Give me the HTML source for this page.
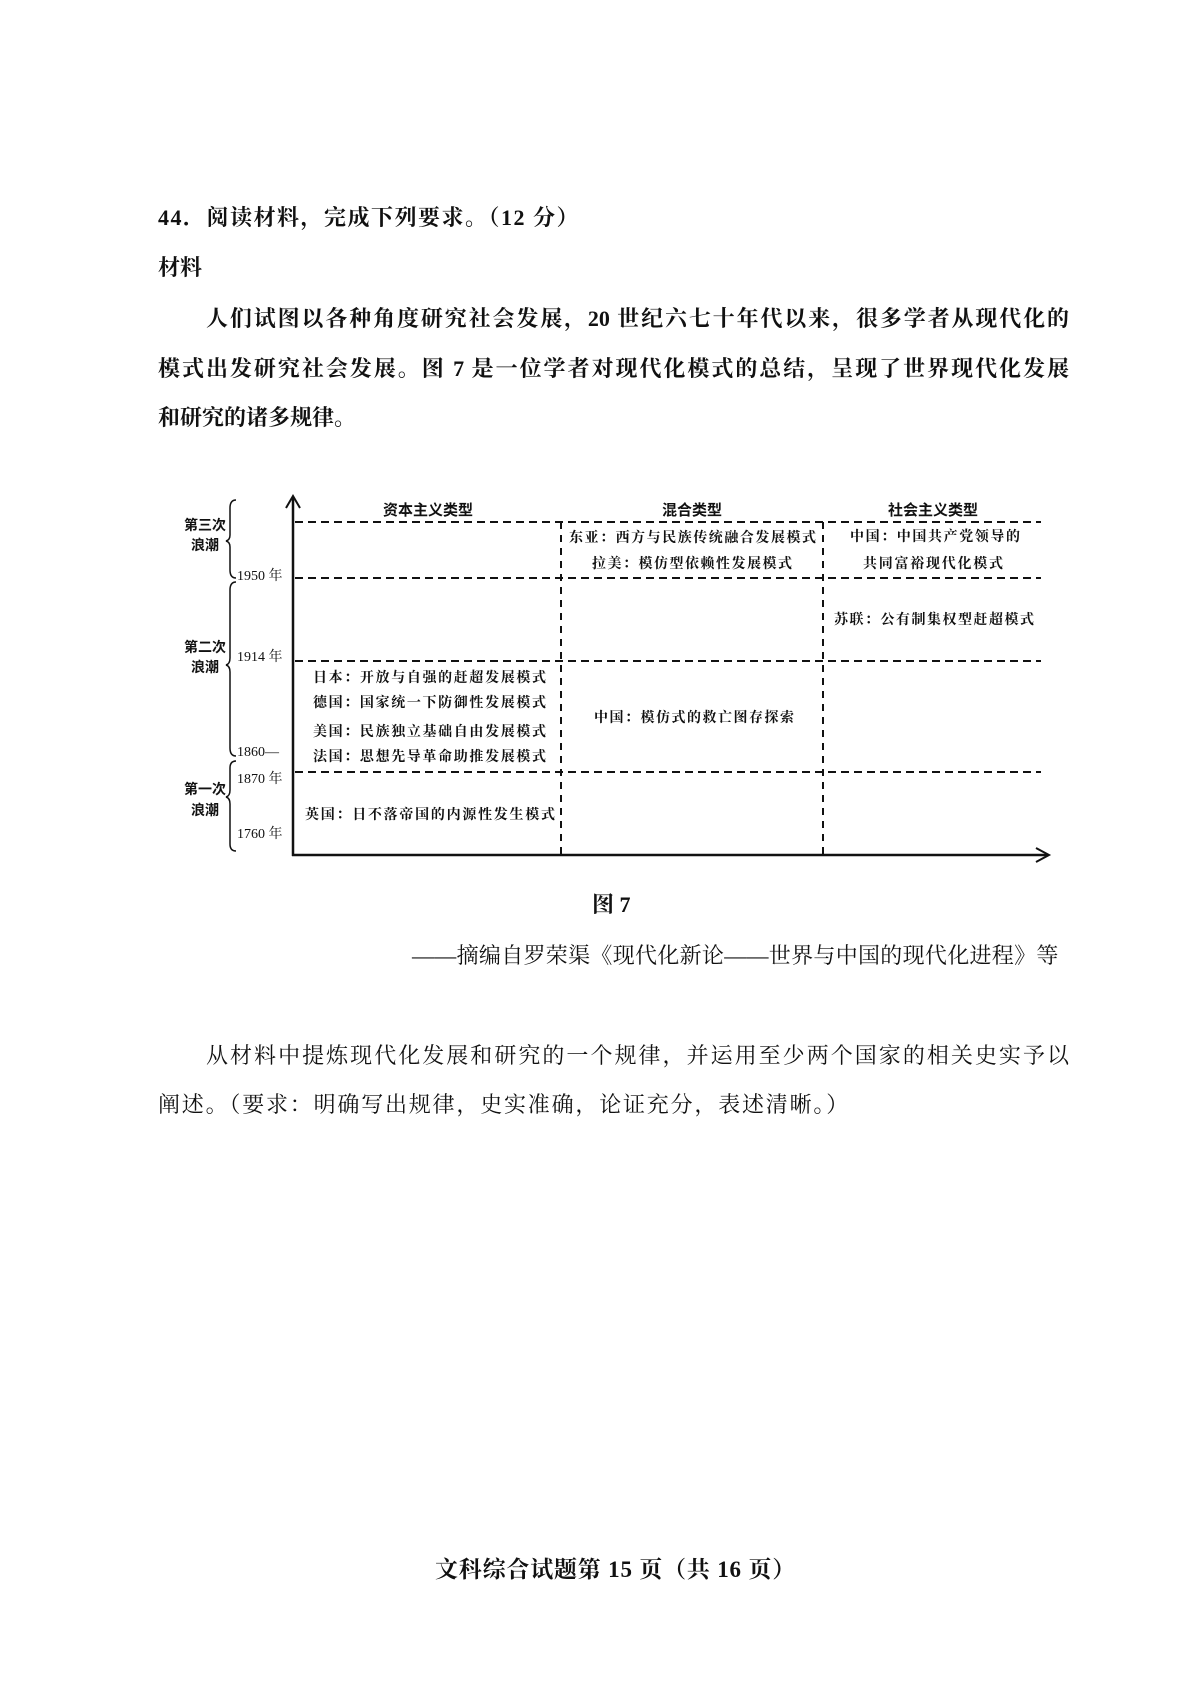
<!DOCTYPE html>
<html><head><meta charset="utf-8"><style>
body{margin:0;width:1200px;height:1697px;background:#fff;position:relative;overflow:hidden;font-family:"Liberation Serif","Noto Serif CJK SC","Noto Sans CJK SC",serif;color:#111}
.t{position:absolute;white-space:nowrap;line-height:1;font-weight:bold}
.j{position:absolute;left:158px;width:911px;line-height:1;font-weight:bold;font-size:22px;text-align:justify;text-align-last:justify;white-space:nowrap}
</style></head><body>
<div class="t" style="left:158px;top:207px;font-size:22px;letter-spacing:1.5px">44．阅读材料，完成下列要求。（12 分）</div>
<div class="t" style="left:158px;top:257px;font-size:22px">材料</div>
<div class="j" style="left:206px;width:863px;top:308px">人们试图以各种角度研究社会发展，20 世纪六七十年代以来，很多学者从现代化的</div>
<div class="j" style="top:358px">模式出发研究社会发展。图 7 是一位学者对现代化模式的总结，呈现了世界现代化发展</div>
<div class="t" style="left:158px;top:407px;font-size:22px">和研究的诸多规律。</div>

<svg style="position:absolute;left:0;top:0" width="1200" height="1697">
<g stroke="#111" fill="none">
<line x1="293" y1="497" x2="293" y2="856" stroke-width="2.5"/>
<polyline points="286,508 293,496 300,508" stroke-width="2"/>
<line x1="292" y1="855" x2="1047" y2="855" stroke-width="2.5"/>
<polyline points="1036,848 1049,855 1036,862" stroke-width="2"/>
<g stroke-dasharray="8,5" stroke-width="2">
<line x1="295" y1="522" x2="1041" y2="522"/>
<line x1="295" y1="578" x2="1041" y2="578"/>
<line x1="295" y1="661" x2="1041" y2="661"/>
<line x1="295" y1="772" x2="1041" y2="772"/>
</g>
<g stroke-dasharray="7,6" stroke-width="2">
<line x1="561" y1="522" x2="561" y2="855"/>
<line x1="823" y1="522" x2="823" y2="855"/>
</g>
<g stroke-width="1.5">
<path d="M236,500 Q230,500 230,508 L230,535 Q230,540 226,541 Q230,542 230,547 L230,570 Q230,578 236,578"/>
<path d="M236,582 Q230,582 230,590 L230,658 Q230,664 226,665 Q230,666 230,672 L230,748 Q230,756 236,756"/>
<path d="M236,761 Q230,761 230,768 L230,790 Q230,796 226,797 Q230,798 230,804 L230,844 Q230,851 236,851"/>
</g>
</g>
<g font-family="Liberation Sans,Noto Sans CJK SC,sans-serif" font-weight="bold" font-size="15" fill="#111" text-anchor="middle">
<text x="428" y="515">资本主义类型</text>
<text x="692" y="515">混合类型</text>
<text x="933" y="515">社会主义类型</text>
<text x="205" y="530" font-size="14">第三次</text>
<text x="205" y="550" font-size="14">浪潮</text>
<text x="205" y="652" font-size="14">第二次</text>
<text x="205" y="672" font-size="14">浪潮</text>
<text x="205" y="794" font-size="14">第一次</text>
<text x="205" y="815" font-size="14">浪潮</text>
</g>
<g font-family="Liberation Serif,Noto Serif CJK SC,serif" font-size="14" fill="#111">
<text x="237" y="580">1950 年</text>
<text x="237" y="661">1914 年</text>
<text x="237" y="756">1860—</text>
<text x="237" y="783">1870 年</text>
<text x="237" y="838">1760 年</text>
</g>
<g font-family="Noto Serif CJK SC,serif" font-size="14" fill="#111" font-weight="bold">
<text x="313" y="682" textLength="233">日本：开放与自强的赶超发展模式</text>
<text x="313" y="707" textLength="233">德国：国家统一下防御性发展模式</text>
<text x="313" y="736" textLength="233">美国：民族独立基础自由发展模式</text>
<text x="313" y="761" textLength="233">法国：思想先导革命助推发展模式</text>
<text x="305" y="819" textLength="250">英国：日不落帝国的内源性发生模式</text>
<text x="569" y="542" textLength="247">东亚：西方与民族传统融合发展模式</text>
<text x="592" y="568" textLength="200">拉美：模仿型依赖性发展模式</text>
<text x="594" y="722" textLength="200">中国：模仿式的救亡图存探索</text>
<text x="850" y="541" textLength="170">中国：中国共产党领导的</text>
<text x="863" y="568" textLength="140">共同富裕现代化模式</text>
<text x="834" y="624" textLength="200">苏联：公有制集权型赶超模式</text>
</g>
</svg>

<div class="t" style="left:592px;top:894px;font-size:22px">图 7</div>
<div class="t" style="left:412px;top:945px;font-size:22px;font-weight:normal;letter-spacing:0.3px">——摘编自罗荣渠《现代化新论——世界与中国的现代化进程》等</div>
<div class="j" style="left:206px;width:863px;top:1045px;font-weight:normal">从材料中提炼现代化发展和研究的一个规律，并运用至少两个国家的相关史实予以</div>
<div class="t" style="left:158px;top:1094px;font-size:22px;font-weight:normal;letter-spacing:1.8px">阐述。（要求：明确写出规律，史实准确，论证充分，表述清晰。）</div>
<div class="t" style="left:435px;top:1558px;font-size:23px;letter-spacing:0.8px">文科综合试题第 15 页（共 16 页）</div>
</body></html>
